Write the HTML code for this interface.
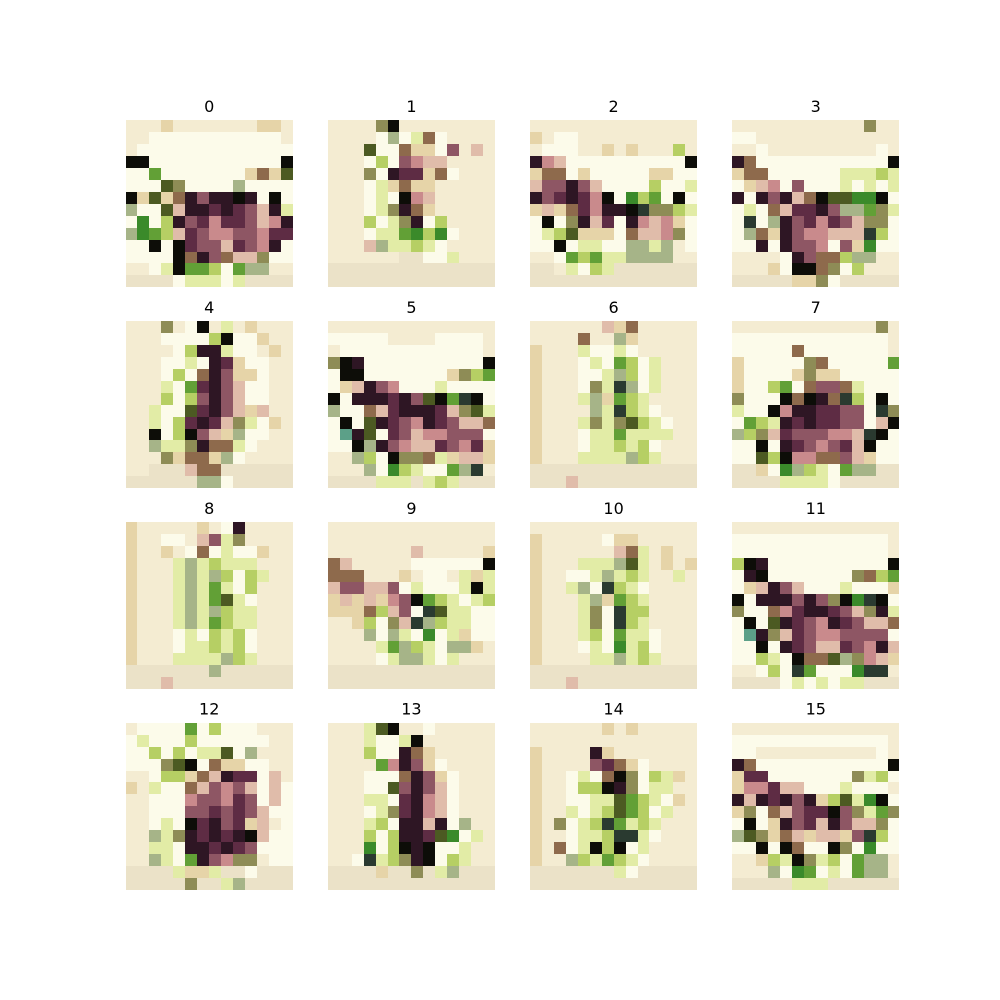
<!DOCTYPE html>
<html>
<head>
<meta charset="utf-8">
<style>
  html, body { margin: 0; padding: 0; background: #ffffff; }
  svg { display: block; }
  text { font-family: "DejaVu Sans", "Liberation Sans", sans-serif; font-size: 16px; fill: #000; }
</style>
</head>
<body>
<svg id="fig" width="1000" height="1000" viewBox="0 0 1000 1000" shape-rendering="crispEdges"></svg>
<script>
// Panel titles
const titles = ["0","1","2","3","4","5","6","7","8","9","10","11","12","13","14","15"];

// Pixel data (14x14 per panel), palette codes
const img0 = ["...y.......yy.","..wwwwwwwwwww.",".wwwwwwwwwwwww","bbwwwwwwwwwwwb","wwgwwwwwwwynyo","wwwovwwwwawwww","byoynkmkkbkwbw","awwoqkkdkdmqkl","wGwLkmdpddmqpk","aGgLqdmppmmpdd","wwbwbdmmqdmpkw","wwwwbnkmnqqvww","..wlbggLwgaa..",",,,,wlllwl,,,,"];
const img1 = ["....vb........","....wawlnw....","...owwnyywm.q.","...wLwmpqq....","...vwkddynw...","...wlynyy.....","...wlwbpq.....","...wlvkny.....","...LwlvkwL....","...wllgGLGw...","...qallLlw....","......,,wwl...",",,,,,,,,,,,,,,",",,,,,,,,,,,,,,"];
const img2 = ["..............","y.ww..........",".www..y.y...L.","kpqwwwwwwwwwwb","ynnwywwwwwyyww","qmmkmqwwwwLwwl","kmdkdpbwGLgwbw","yqyndpkkbsvvLl","wbwvkqdwkpqpyw","wlLoyyywnqqpvw","wwbwllwwaala.w","..wgLgllaaaa..",",,.lwLl,,,,,,,",",,,,,,,,,,,,,,"];
const img3 = ["...........v..","ww............","..w.........w.","knwwwwwwwwwwwb","ynnwwwwwwlllLl","wyqpwmwwwlwlwl","kwkmkqnbooGGbw","wlwnqddkmaagvl","wswakmdpdmqvvw","wanykmppqqqsLw","wwkwkmmpwmyGww","....wkmnnLaa..","...ywbbnvwL...",",,,,,yyvw,,,,,"];
const img4 = ["...v.wb.l.y...","...wwwwLbwwy..","....wLkklww.y.","...wwlwkdyww..","...wLwnkmyyw..","...lwgdkmqww..","...LwLmkmqww..","..lwwodkmqyq..","..lwLdkdqvlwy.","..bwLbmqyaww..","..allvknnlw...","...vynnyaw....","..,,,qnn,,,,,,",",,,,,,aaw,,,,,"];
const img5 = ["..............","wwwww....wwww.",".wwwwwwwwwwww.","vbkwwwwwwwwwwb","wbbwwwwwwwyvLg","wyqkmpwwwlwwww","bwkkkdkmobgsbw","awwnqdkkkdqvol","wbwokdmpkdmqqn","wTkowdmqppmmmw","wwbakmpqqdmpdy","..aLwbvvnlyqqy","...awGLlwwgas.",",,,,lll,lLl,,,"];
const img6 = ["......qyn.....","....n..ay.....","y...lwwlw.....","y...wlwgLwl...","y...wwlaLwl...","y...wvlsawl...","y...laygLl....","y....alsLlw...","y...lvlvoLlw..","y...wllgllll..","y...wllLlLw...","y...llllaLl...",",,,,,,,,,,,,,,",",,,q,,,,,,,,,,"];
const img7 = ["............v.","wwwwwwwwwwwww.","wwwwwnwwwwwww.","ywwwwwvnwwwwwg","ywwwwyvyywwwww","ywwLgwnmmnlwww","vwwwbnbknsLwbw","lwwbpkkddmmwsv","wgLlkdkddmmwqb","aLvqdmmmppqsbw","wwbwkdmpmdqbww","wwoLbppnnmqyww",",,ywGaLlwgaa,,",",,,,llllw,,,,,"];
const img8 = ["y.....y.wk....","y..ww.qmlv....","y..y.wnwlwwy..","y...lalLlll...","y...lalaLwLl..","y...lalglwL...","y...lalgolw...","y...lalaLll...","y...lalgLll...","y...wlwLlLw...","y...wllLlLw...","y...llllaLl...",",,,,,,,a,,,,,,",",,,q,,,,,,,,,,"];
const img9 = ["..............","..............",".......q.....y","nq.....wwwwwwb","nnn...y.ww.lyl","qmmqqmwlwwwlbl","yqyqypmbgLlwlL","yyynLqmwsollww","..yLwvqsaLllww","...awalwGwlyww","....lgaLlwaay.","....wlaalwl...",",,,,,,,,,,,,,,",",,,,,,,,,,,,,,"];
const img10 = ["..............","y.....wyy.....","y......qnl.y..","y...lllaol.y.y","y..wwlalLl..l.","y..lawsLlw....","y...laygLl....","y...lvwsLL....","y...lvwsLl....","y...lLwgllw...","y...wlwGlLw...","y....llalLl...",",,,,,,,,,,,,,,",",,,q,,,,,,,,,,"];
const img11 = ["..............","wwwwwwwwwwwww.","wwwwwwwwwwwww.","Lbkwwwwwwwwwwb","wkbwwwwwwwvnLg","wyqkmqwwwlwwwy","bwkkkmkmvbGsbw","vwwnpdkkdmqvkl","wbwokdmpkdmqqn","wTkvqdmppmmmmw","wwbwkdmqqdmpkq","wwLlwbnnoavpqy","..wLwsgwwwGss.",",,,,wlwlwll,,,"];
const img12 = [".wwwwgwLwww...","wlwwwLwwwwww..","wwLwLwllowa...","wwwvobwnyyww..","..wLLynqkddwq.","y.lwwnqmpmqwqw","..wwwpmmpdmwqw","..wwwmmdmdmqww","..wlwbdkmdyq.w","..alvkdkdkbqww","..llwkkdkdmwww","..alwgkmpvv.ww",",,,,lyyl,,w,,,",",,,,,v,,la,,,,"];
const img13 = ["...lob..w.....","...lwwlb......","...Lwwkny.....","....gpkmyw....","...wwwnkmyw...","...wwomkmqw...","...llwdkpqw...","...wlvdkpqw...","...lLwkkqkwa..","...LwLkkdoGwl.","...GwLbkbwwl..","..wslLvkbwLl..",",,,,y,,v,la,,,",",,,,,,,,,,,,,,"];
const img14 = ["......y.y.....","..............","y....ky.......","y....mdnyw....","y..wlwnbvwLly.","y..wLLbkvwll..","y..wwllogLlwy.","y..lwlLogLwl..","y.vwlLsglLl...","y..wllLsslw...","y.nwlbLbwl....","y..aLlgLlw....",",,,,,,,lw,,,,,",",,,,,,,,,,,,,,"];
const img15 = ["..............","wwwwwwwwwwwww.","ww..........w.","knwwwwwwwwwwwb","yddwwwwwwwvlLw","yppdqqwwwlwww.","kqkdkmkyLolGbw","yvwnqmddbmvlgv","wbwykmdqkmqqvw","aovynqyqqymsLw","wwbwbnwwbvwGww","..yLlbvlLwgaa.","...awGgwlwgaa.",",,,,,lll,,,,,,"];

const images = [img0,img1,img2,img3,img4,img5,img6,img7,img8,img9,img10,img11,img12,img13,img14,img15];

const palette = {
  ".": "#f4ecd2", ",": "#ebe2c8", "w": "#fcfbea", "y": "#e6d4a8",
  "b": "#0d0d08", "k": "#2e1624", "d": "#5e2c44", "m": "#8e5664",
  "p": "#c98a8c", "q": "#e0bcaa", "n": "#8e6a4c", "o": "#4c5a22",
  "g": "#62a036", "G": "#3a8a2a", "l": "#e2eca6", "L": "#b6cf64",
  "a": "#a6b488", "v": "#8e8c56", "s": "#2a3a30", "T": "#5ca088"
};

const svg = document.getElementById('fig');
const NS = 'http://www.w3.org/2000/svg';
const left = 125, top0 = 120, axW = 168.48, axH = 167.4, gapX = 33.7, gapY = 33.5;
const N = 14;

images.forEach((img, idx) => {
  const col = idx % 4, row = Math.floor(idx / 4);
  const ax = left + col * (axW + gapX) + (axW - axH) / 2;
  const ay = top0 + row * (axH + gapY);
  const ps = axH / N;
  const g = document.createElementNS(NS, 'g');
  
  
  svg.appendChild(g);
  img.forEach((rowStr, r) => {
    for (let c = 0; c < N; c++) {
      const ch = rowStr[c] || '.';
      const rect = document.createElementNS(NS, 'rect');
      const x0 = Math.round(ax + c * ps), x1 = Math.round(ax + (c + 1) * ps);
      const y0 = Math.round(ay + r * ps), y1 = Math.round(ay + (r + 1) * ps);
      rect.setAttribute('x', x0);
      rect.setAttribute('y', y0);
      rect.setAttribute('width', x1 - x0);
      rect.setAttribute('height', y1 - y0);
      rect.setAttribute('fill', palette[ch] || palette['.']);
      
      
      g.appendChild(rect);
    }
  });
  const t = document.createElementNS(NS, 'text');
  t.setAttribute('x', ax + axH / 2);
  t.setAttribute('y', ay - 8);
  t.setAttribute('text-anchor', 'middle');
  
  
  t.textContent = titles[idx];
  g.appendChild(t);
});
</script>
</body>
</html>
